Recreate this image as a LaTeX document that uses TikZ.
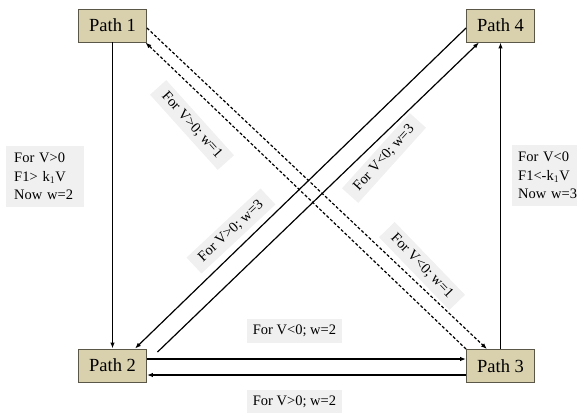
\documentclass[tikz,border=0pt]{standalone}
\usepackage{fontspec}
\setmainfont{Liberation Serif}
\usetikzlibrary{arrows.meta}
\definecolor{boxfill}{HTML}{D9D1AE}
\definecolor{boxdraw}{HTML}{5A5648}
\definecolor{lblfill}{HTML}{F0F0F0}
\tikzset{
  pathbox/.style={draw=boxdraw, line width=0.9pt, fill=boxfill, minimum width=68pt, minimum height=33pt, inner sep=0pt, font=\fontsize{18.5}{20}\selectfont},
  lbl/.style={fill=lblfill, inner sep=4pt, font=\fontsize{14.5}{18.5}\selectfont},
  rlbl/.style={lbl, inner xsep=9pt, inner ysep=5pt},
  conn/.style={line width=1.2pt, -{Latex[length=6pt,width=4.5pt]}},
  dconn/.style={line width=1.2pt, dash pattern=on 3pt off 2pt, -{Latex[length=6pt,width=4.5pt]}}
}
\begin{document}
\begin{tikzpicture}[x=1pt,y=-1pt]
\useasboundingbox (0,0) rectangle (577,412);
\node[pathbox] (P1) at (112.5,25.5) {Path 1};
\node[pathbox] (P4) at (500.5,25.5) {Path 4};
\node[pathbox] (P2) at (112.5,365.5) {Path 2};
\node[pathbox] (P3) at (500.5,366) {Path 3};
% labels
\node[lbl, anchor=north west, align=left, text width=62pt, inner xsep=8pt, inner ysep=7pt] (L1) at (6,146) {For V>0\\F1> k$_1$V\\Now w=2};
\node[lbl, anchor=north west, align=left, text width=62pt, inner xsep=6pt, inner ysep=7pt] (L4) at (512,145) {For V<0\\F1<-k$_1$V\\Now w=3};
\node[lbl, minimum width=95pt, minimum height=24pt] (L23) at (294.5,331) {For V<0; w=2};
\node[lbl, minimum width=95pt, minimum height=24pt] (L32) at (294.5,402) {For V>0; w=2};
\node[rlbl, rotate=-48] (L13) at (192,125) {For V>0; w=1};
\node[rlbl, rotate=43] (L42) at (231,231) {For V>0; w=3};
\node[rlbl, rotate=48] (L24) at (384,158) {For V<0; w=3};
\node[rlbl, rotate=-46] (L31) at (422,266) {For V<0; w=1};
% connectors
\draw[conn] (P1.south) -- (P2.north);
\draw[conn] (P3.north) -- (P4.south);
\draw[conn] ([yshift=6.5pt]P2.east) -- ([yshift=7pt]P3.west);
\draw[conn] ([yshift=-9pt]P3.west) -- ([yshift=-9.5pt]P2.east);
\draw[conn] ([yshift=-2.5pt]P4.west) -- ([xshift=22.5pt]P2.north);
\draw[conn] ([xshift=10.5pt,yshift=-3.5pt]P2.north east) -- ([xshift=-21.5pt]P4.south);
\draw[dconn] ([yshift=-2.5pt]P1.east) -- ([xshift=-13.5pt]P3.north);
\draw[dconn] (P3.north west) -- ([xshift=-1.5pt]P1.south east);
\end{tikzpicture}
\end{document}
